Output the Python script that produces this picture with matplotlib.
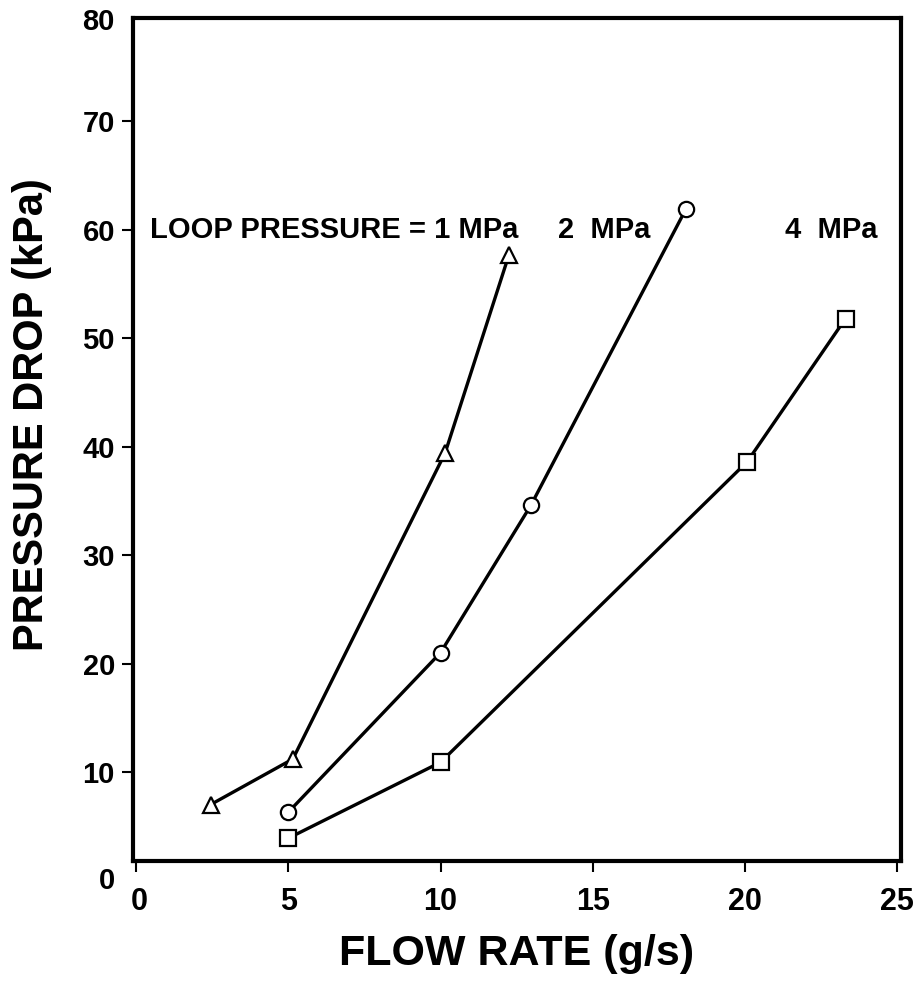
import matplotlib
matplotlib.use("Agg")
from matplotlib import pyplot as plt
from matplotlib.transforms import ScaledTranslation, blended_transform_factory

# data
tri_x = [2.45, 5.15, 10.15, 12.25]
tri_y = [7.0, 11.2, 39.4, 57.7]
circ_x = [5.0, 10.0, 12.97, 18.06]
circ_y = [6.3, 21.0, 34.6, 61.9]
sq_x = [5.0, 10.0, 20.07, 23.3]
sq_y = [3.9, 10.9, 38.6, 51.8]

x_ticks = [0, 5, 10, 15, 20, 25]
y_ticks = [10, 20, 30, 40, 50, 60, 70]
y_end_labels = [0, 80]

FONT = ["Liberation Sans", "DejaVu Sans"]

fig = plt.figure(figsize=(9.17, 9.89), dpi=100)
ax = fig.add_axes([0.145, 0.1294, 0.8375, 0.8524])

style = dict(color="black", linewidth=2.4, markersize=11,
             markerfacecolor="white", markeredgecolor="black",
             markeredgewidth=1.6)
ax.plot(tri_x, tri_y, marker="^", **style)
ax.plot(circ_x, circ_y, marker="o", **style)
ax.plot(sq_x, sq_y, marker="s", **style)

# the frame in the reference does not sit exactly on 0 / 80
ax.set_xlim(-0.1, 25.12)
ax.set_ylim(1.8, 79.5)
ax.set_xticks(x_ticks)
ax.set_yticks(y_ticks)
ax.set_xticklabels([str(t) for t in x_ticks], family=FONT,
                   fontweight="bold", fontsize=22)
ax.set_yticklabels([str(t) for t in y_ticks], family=FONT,
                   fontweight="bold", fontsize=21)
ax.tick_params(direction="out", length=8, width=1.5)
ax.tick_params(axis="x", pad=11)
ax.tick_params(axis="y", pad=5)

ax.get_xticklabels()[0].set_transform(
    ax.get_xticklabels()[0].get_transform()
    + ScaledTranslation(0.03, 0, fig.dpi_scale_trans))

# 0 and 80 labels lie outside the frame, no tick marks there
trans = blended_transform_factory(ax.transAxes, ax.transData)
for v, yy in zip(y_end_labels, [0, 79.1]):
    ax.text(-0.0235, yy, str(v), transform=trans, ha="right",
            va="center", family=FONT, fontweight="bold", fontsize=21,
            clip_on=False)

for s in ax.spines.values():
    s.set_linewidth(3)

ax.set_xlabel("FLOW RATE (g/s)", family=FONT, fontweight="bold",
              fontsize=31, labelpad=12)
ax.set_ylabel("PRESSURE DROP (kPa)", family=FONT, fontweight="bold",
              fontsize=30)
ax.yaxis.set_label_coords(-0.105, 0.53)

ax.text(0.45, 60, "LOOP PRESSURE = 1 MPa", family=FONT,
        fontweight="bold", fontsize=21, va="center")
ax.text(13.85, 60, "2  MPa", family=FONT, fontweight="bold",
        fontsize=21, va="center")
ax.text(21.3, 60, "4  MPa", family=FONT, fontweight="bold",
        fontsize=21, va="center")

fig.savefig("out.png", dpi=100)
